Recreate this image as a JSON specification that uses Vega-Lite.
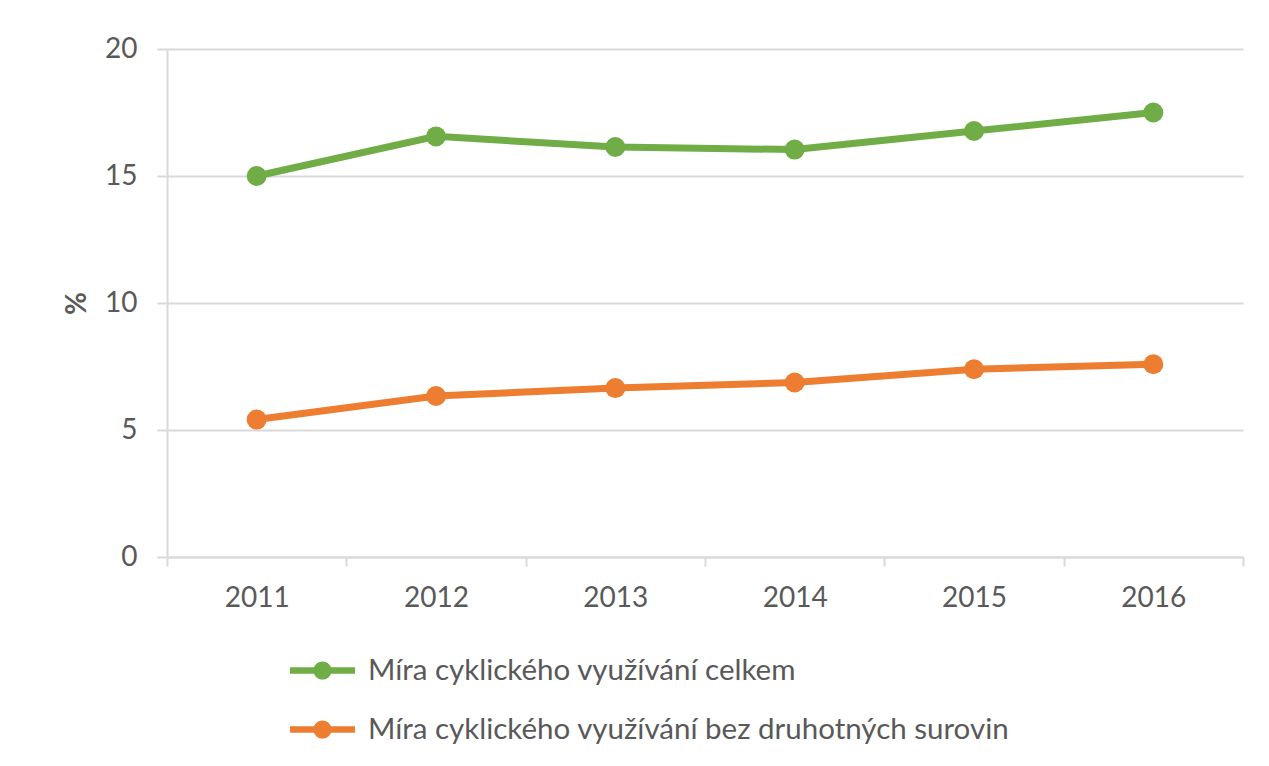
{
  "$schema": "https://vega.github.io/schema/vega-lite/v6.json",
  "width": 1076,
  "height": 508,
  "autosize": "none",
  "padding": {"left": 167, "top": 49, "right": 26, "bottom": 209},
  "background": "white",
  "config": {
    "view": {"stroke": null},
    "font": "Lato"
  },
  "data": {
    "values": [
      {"rok": "2011", "rada": "Míra cyklického využívání celkem", "hodnota": 15.0},
      {"rok": "2012", "rada": "Míra cyklického využívání celkem", "hodnota": 16.56},
      {"rok": "2013", "rada": "Míra cyklického využívání celkem", "hodnota": 16.14},
      {"rok": "2014", "rada": "Míra cyklického využívání celkem", "hodnota": 16.04},
      {"rok": "2015", "rada": "Míra cyklického využívání celkem", "hodnota": 16.77},
      {"rok": "2016", "rada": "Míra cyklického využívání celkem", "hodnota": 17.5},
      {"rok": "2011", "rada": "Míra cyklického využívání bez druhotných surovin", "hodnota": 5.41},
      {"rok": "2012", "rada": "Míra cyklického využívání bez druhotných surovin", "hodnota": 6.34},
      {"rok": "2013", "rada": "Míra cyklického využívání bez druhotných surovin", "hodnota": 6.65},
      {"rok": "2014", "rada": "Míra cyklického využívání bez druhotných surovin", "hodnota": 6.87},
      {"rok": "2015", "rada": "Míra cyklického využívání bez druhotných surovin", "hodnota": 7.39},
      {"rok": "2016", "rada": "Míra cyklického využívání bez druhotných surovin", "hodnota": 7.59}
    ]
  },
  "encoding": {
    "x": {
      "field": "rok", "type": "ordinal",
      "scale": {"paddingInner": 0, "paddingOuter": 0},
      "axis": {
        "title": null, "labelAngle": 0, "tickBand": "extent",
        "domainColor": "#d9d9d9", "domainWidth": 2,
        "tickColor": "#d9d9d9", "tickWidth": 2, "tickSize": 9,
        "labelFontSize": 28, "labelColor": "#595959", "labelPadding": 18,
        "labelFont": "Lato", "grid": false
      }
    },
    "y": {
      "field": "hodnota", "type": "quantitative",
      "scale": {"domain": [0, 20], "nice": false},
      "axis": {
        "title": "%", "titleFontSize": 28, "titleFontWeight": "bold",
        "titleColor": "#595959", "titleFont": "Lato", "titlePadding": 13,
        "values": [0, 5, 10, 15, 20],
        "labelFontSize": 28, "labelColor": "#595959", "labelPadding": 20,
        "labelFont": "Lato",
        "domainColor": "#d9d9d9", "domainWidth": 2,
        "tickColor": "#d9d9d9", "tickWidth": 2, "tickSize": 10,
        "gridColor": "#d9d9d9", "gridWidth": 2
      }
    },
    "color": {
      "field": "rada", "type": "nominal",
      "scale": {
        "domain": ["Míra cyklického využívání celkem", "Míra cyklického využívání bez druhotných surovin"],
        "range": ["#70AD47", "#ED7D31"]
      },
      "legend": {
        "title": null, "orient": "none", "legendX": 123, "legendY": 589,
        "direction": "vertical",
        "symbolType": "M-1,-0.1 L1,-0.1 L1,0.1 L-1,0.1 Z M0.28,0 A0.28,0.28 0 1,1 -0.28,0 A0.28,0.28 0 1,1 0.28,0 Z",
        "symbolSize": 4225, "symbolStrokeWidth": 0,
        "labelFontSize": 29.5, "labelColor": "#595959", "labelFont": "Lato",
        "labelLimit": 0, "labelOffset": 13, "rowPadding": 12,
        "encode": {"symbols": {"update": {"fill": {"scale": "color", "field": "value"}, "opacity": {"value": 1}}}}
      }
    }
  },
  "layer": [
    {"mark": {"type": "line", "strokeWidth": 7}},
    {"mark": {"type": "point", "filled": true, "size": 400, "opacity": 1, "shape": "circle"}}
  ]
}
